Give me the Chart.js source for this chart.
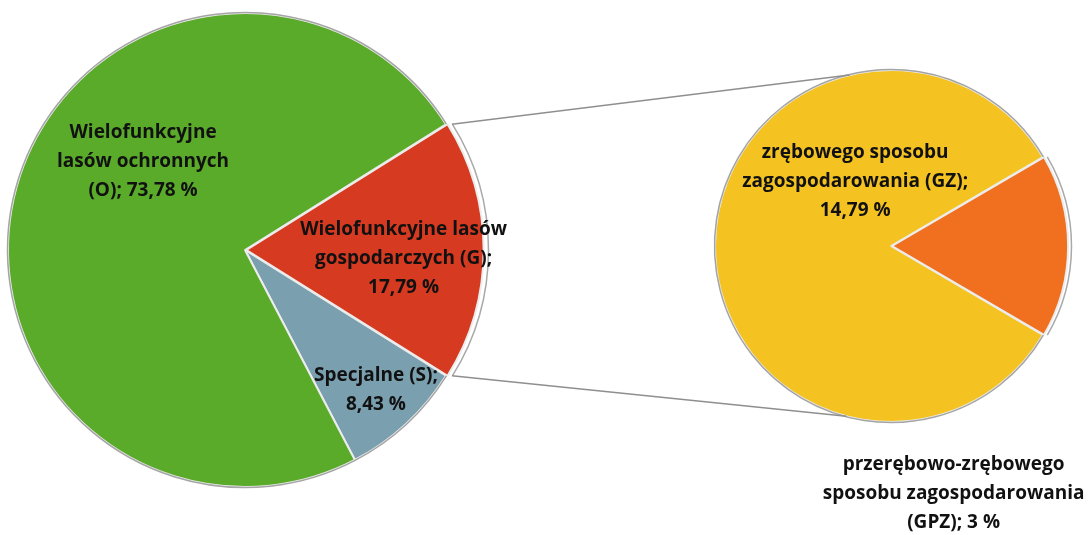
<!DOCTYPE html>
<html lang="pl">
<head>
    <meta charset="UTF-8">
    <title>Lasy - udział</title>
    <script src="https://cdn.jsdelivr.net/npm/chart.js"></script>
    <style>
        body {
            margin: 0;
            background: #fff;
            width: 1088px;
            height: 535px;
            position: relative;
            overflow: hidden;
        }
        .box { position: absolute; }
        #mainBox { left: -4px; top: 1px; width: 498px; height: 498px; }
        #subBox { left: 702px; top: 59px; width: 378px; height: 374px; }
        #overlay { position: absolute; left: 0; top: 0; pointer-events: none; z-index: 5; }
    </style>
</head>
<body>
    <div class="box" id="mainBox"><canvas id="mainChart"></canvas></div>
    <div class="box" id="subBox"><canvas id="subChart"></canvas></div>
    <canvas id="overlay" width="1088" height="535"></canvas>
    <script>
        // main pie: G, S, O (clockwise from the split)
        const mainLabels = [
            ['Wielofunkcyjne lasów', 'gospodarczych (G);', '17,79 %'],
            ['Specjalne (S);', '8,43 %'],
            ['Wielofunkcyjne', 'lasów ochronnych', '(O); 73,78 %']
        ];
        const mainValues = [17.79, 8.43, 73.78];
        const mainColors = ['#d63a20', '#7a9fae', '#5aab2a'];

        // second pie: breakdown of G
        const subLabels = [
            ['przerębowo-zrębowego', 'sposobu zagospodarowania', '(GPZ); 3 %'],
            ['zrębowego sposobu', 'zagospodarowania (GZ);', '14,79 %']
        ];
        const subValues = [3, 14.79];
        const subColors = ['#f07020', '#f4c322'];

        // label anchors: [angle deg (0 = right, clockwise), radius fraction]
        const mainLabelPos = [[3, 0.67], [47, 0.81], [221, 0.57]];
        const subLabelPos = [[75.8, 1.45], [241, 0.42]];

        const labelFont = 'bold 19px "Open Sans", sans-serif';
        const PAD = 8;

        const ringPlugin = {
            id: 'ring',
            afterDatasetsDraw(chart) {
                const ctx = chart.ctx;
                ctx.save();
                ctx.strokeStyle = 'rgba(140,140,140,0.75)';
                ctx.lineWidth = 1.5;
                chart.getDatasetMeta(0).data.forEach(a => {
                    const off = a.options.offset || 0;
                    const mid = (a.startAngle + a.endAngle) / 2;
                    const ox = a.x + Math.cos(mid) * off, oy = a.y + Math.sin(mid) * off;
                    ctx.beginPath();
                    ctx.arc(ox, oy, a.outerRadius + 0.5, a.startAngle, a.endAngle);
                    ctx.stroke();
                });
                ctx.restore();
            }
        };

        function makePie(id, labels, values, colors, rotation, offsets) {
            return new Chart(document.getElementById(id), {
                type: 'pie',
                data: {
                    labels: labels,
                    datasets: [{
                        data: values,
                        backgroundColor: colors,
                        borderColor: '#ececec',
                        borderWidth: 2,
                        offset: offsets,
                        hoverOffset: 0
                    }]
                },
                options: {
                    responsive: true,
                    maintainAspectRatio: false,
                    animation: false,
                    rotation: rotation,
                    events: [],
                    layout: { padding: PAD },
                    plugins: {
                        legend: { display: false },
                        tooltip: { enabled: false }
                    }
                },
                plugins: [ringPlugin]
            });
        }

        // start G so that it is centred on the right-hand horizontal
        const mainRot = 90 - mainValues[0] * 3.6 / 2;
        const subRot = 90 - subValues[0] / (subValues[0] + subValues[1]) * 360 / 2;

        const mainChart = makePie('mainChart', mainLabels, mainValues, mainColors, mainRot, [6, 0, 0]);
        const subChart = makePie('subChart', subLabels, subValues, subColors, subRot, [4, 0]);

        const ov = document.getElementById('overlay');
        const octx = ov.getContext('2d');

        function drawLabels(chart, box, pos) {
            const meta = chart.getDatasetMeta(0);
            const ox = box.offsetLeft, oy = box.offsetTop;
            octx.save();
            octx.font = labelFont;
            octx.fillStyle = '#111';
            octx.textAlign = 'center';
            octx.textBaseline = 'middle';
            meta.data.forEach((arc, i) => {
                const [deg, frac] = pos[i];
                const a = deg * Math.PI / 180;
                const cx = ox + arc.x + Math.cos(a) * arc.outerRadius * frac;
                const cy = oy + arc.y + Math.sin(a) * arc.outerRadius * frac;
                const lines = chart.data.labels[i];
                const lh = 29;
                lines.forEach((t, k) => {
                    octx.fillText(t, cx, cy + (k - (lines.length - 1) / 2) * lh);
                });
            });
            octx.restore();
        }

        // connector lines between G slice and second pie
        function drawLines(mBox, sBox) {
            const g = mainChart.getDatasetMeta(0).data[0];
            const s0 = subChart.getDatasetMeta(0).data[0];
            const mid = (g.startAngle + g.endAngle) / 2;
            const gx = mBox.offsetLeft + g.x + Math.cos(mid) * 6;
            const gy = mBox.offsetTop + g.y + Math.sin(mid) * 6;
            const sx = sBox.offsetLeft + s0.x;
            const sy = sBox.offsetTop + s0.y;
            const R = s0.outerRadius;
            const top = -103.6 * Math.PI / 180, bot = 104.7 * Math.PI / 180;
            octx.save();
            octx.strokeStyle = '#8f8f8f';
            octx.lineWidth = 1.5;
            octx.beginPath();
            octx.moveTo(gx + Math.cos(g.startAngle) * g.outerRadius, gy + Math.sin(g.startAngle) * g.outerRadius);
            octx.lineTo(sx + Math.cos(top) * R, sy + Math.sin(top) * R);
            octx.moveTo(gx + Math.cos(g.endAngle) * g.outerRadius, gy + Math.sin(g.endAngle) * g.outerRadius);
            octx.lineTo(sx + Math.cos(bot) * R, sy + Math.sin(bot) * R);
            octx.stroke();
            octx.restore();
        }

        const mBox = document.getElementById('mainBox');
        const sBox = document.getElementById('subBox');
        drawLines(mBox, sBox);
        drawLabels(mainChart, mBox, mainLabelPos);
        drawLabels(subChart, sBox, subLabelPos);
    </script>
</body>
</html>
